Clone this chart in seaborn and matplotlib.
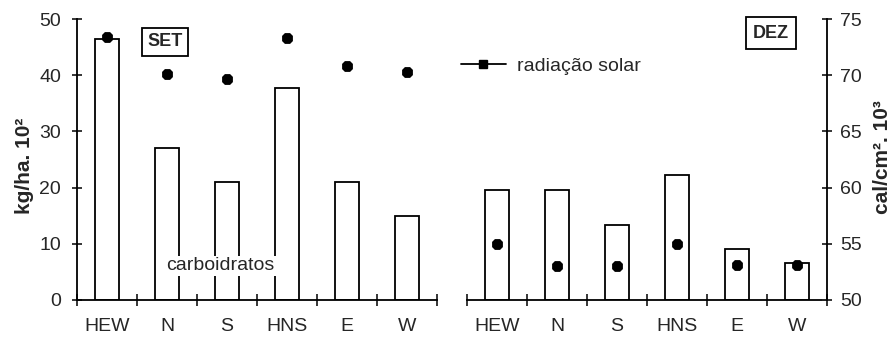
import numpy as np
import matplotlib
matplotlib.use("Agg")
import matplotlib.pyplot as plt
from matplotlib.lines import Line2D
import seaborn as sns

sns.set_style("white")
plt.rcParams['font.family'] = ['Liberation Sans', 'DejaVu Sans']

categories = ["HEW", "N", "S", "HNS", "E", "W"]

# carboidratos (kg/ha.10^2)
carb_set = [46.4, 27.1, 21.0, 37.8, 21.0, 15.0]
carb_dez = [19.5, 19.5, 13.3, 22.3, 9.0, 6.5]

# radiacao solar (cal/cm2.10^3)
rad_set = [73.4, 70.1, 69.7, 73.3, 70.8, 70.3]
rad_dez = [55.0, 53.0, 53.0, 55.0, 53.1, 53.1]

FS = 14
LW = 1.3

fig = plt.figure(figsize=(8.94, 3.54), dpi=100)
W, H = 894, 354
bottom = 1 - 300 / H
height = (300 - 19) / H
ax_l = fig.add_axes([77 / W, bottom, (437 - 77) / W, height])
ax_r = fig.add_axes([467 / W, bottom, (827 - 467) / W, height])


def panel(ax, carb, rad):
    sns.barplot(x=categories, y=carb, ax=ax, color="white", edgecolor="black",
                linewidth=LW, width=0.4, saturation=1)
    ax.set_ylim(0, 50)
    ax2 = ax.twinx()
    sns.pointplot(x=categories, y=rad, ax=ax2, color="black", linestyle="none",
                  marker="8", markersize=7, errorbar=None)
    ax2.set_ylim(50, 75)
    ax.set_xlim(-0.5, 5.5)
    ax.set_xticks(range(6))
    ax.set_xticklabels(categories, fontsize=FS)
    ax.set_xticks(np.arange(-0.5, 6, 1), minor=True)
    ax.tick_params(axis="x", which="major", length=0, pad=13)
    ax.tick_params(axis="x", which="minor", length=8, width=LW, direction="inout",
                   bottom=True)
    for s in ["top", "right", "left"]:
        ax.spines[s].set_visible(False)
        ax2.spines[s].set_visible(False)
    ax.spines["bottom"].set_linewidth(LW)
    ax.spines["bottom"].set_color("black")
    ax.set_xlabel("")
    ax2.set_xlabel("")
    ax.set_ylabel("")
    ax2.set_ylabel("")
    ax2.spines["bottom"].set_visible(False)
    return ax2


ax_l2 = panel(ax_l, carb_set, rad_set)
ax_r2 = panel(ax_r, carb_dez, rad_dez)

# left axis
ax_l.spines["left"].set_visible(True)
ax_l.spines["left"].set_linewidth(LW)
ax_l.spines["left"].set_color("black")
ax_l.set_yticks(range(0, 51, 10))
ax_l.tick_params(axis="y", left=True, length=7, width=LW, direction="inout",
                 labelsize=FS, pad=8)
ax_l2.tick_params(axis="y", right=False, labelright=False)

# right panel axes
ax_r.tick_params(axis="y", left=False, labelleft=False)
ax_r2.spines["right"].set_visible(True)
ax_r2.spines["right"].set_linewidth(LW)
ax_r2.spines["right"].set_color("black")
ax_r2.set_yticks(range(50, 76, 5))
ax_r2.tick_params(axis="y", right=True, length=7, width=LW, direction="inout",
                  labelsize=FS, pad=6)

# month boxes
fig.text(165 / W, 1 - 42 / H, "SET", fontsize=FS - 1, fontweight="bold", ha="center",
         va="center", bbox=dict(boxstyle="square,pad=0.3", facecolor="white",
                                edgecolor="black", linewidth=LW))
fig.text(771 / W, 1 - 33 / H, "DEZ", fontsize=FS - 1, fontweight="bold", ha="center",
         va="center", bbox=dict(boxstyle="square,pad=0.4", facecolor="white",
                                edgecolor="black", linewidth=LW))

# labels
fig.text(220 / W, 1 - 266 / H, "carboidratos", fontsize=FS, ha="center", va="center",
         bbox=dict(boxstyle="square,pad=0.1", facecolor="white", edgecolor="none"))
fig.text(24 / W, 1 - 166 / H, "kg/ha. 10²", fontsize=15, fontweight="bold",
         rotation=90, ha="center", va="center")
fig.text(882 / W, 1 - 157 / H, "cal/cm². 10³", fontsize=15, fontweight="bold",
         rotation=90, ha="center", va="center")

handle = Line2D([], [], color="black", marker="s", markersize=6, linewidth=LW)
fig.legend([handle], ["radiação solar"], loc="center left",
           bbox_to_anchor=(461 / W, 1 - 66 / H), frameon=False, fontsize=FS,
           borderpad=0, borderaxespad=0, handlelength=2.3, handletextpad=0.6)

fig.savefig("out.png", dpi=100)
